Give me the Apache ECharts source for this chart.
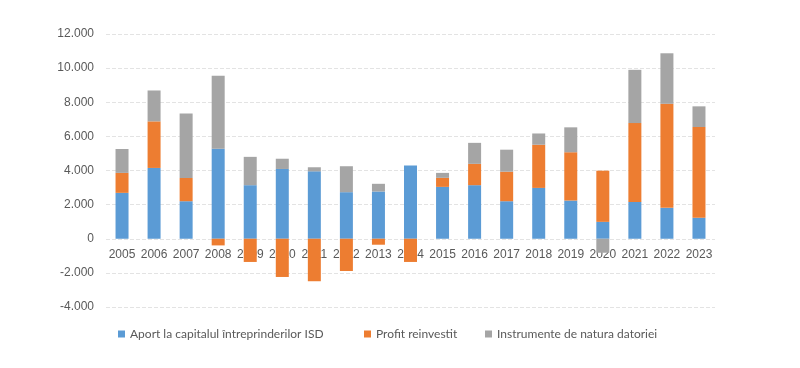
<!DOCTYPE html>
<html><head><meta charset="utf-8">
<script src="https://cdn.jsdelivr.net/npm/echarts@6/dist/echarts.min.js"></script>
<style>html,body{margin:0;padding:0;background:#fff}#c{width:800px;height:368px}</style>
</head><body><div id="c"></div>
<script>
const years = ['2005','2006','2007','2008','2009','2010','2011','2012','2013','2014','2015','2016','2017','2018','2019','2020','2021','2022','2023'];
const aport = [2690, 4150, 2200, 5280, 3140, 4090, 3950, 2730, 2770, 4290, 3040, 3140, 2200, 2980, 2240, 990, 2160, 1810, 1230];
const profit = [1170, 2730, 1360, -390, -1360, -2240, -2490, -1890, -350, -1360, 530, 1250, 1730, 2530, 2830, 3000, 4620, 6100, 5320];
const instrumente = [1400, 1810, 3780, 4270, 1660, 600, 240, 1520, 450, 0, 290, 1230, 1290, 660, 1460, -820, 3120, 2960, 1210];
const seriesNames = ['Aport la capitalul întreprinderilor ISD', 'Profit reinvestit', 'Instrumente de natura datoriei'];
const colors = ['#5B9BD5', '#ED7D31', '#A5A5A5'];

const chart = echarts.init(document.getElementById('c'), null, {renderer: 'canvas'});
const fmt = v => {
  const s = Math.abs(v).toString().replace(/\B(?=(\d{3})+(?!\d))/g, '.');
  return (v < 0 ? '-' : '') + s;
};
const mk = (name, data, i) => ({
  name, type: 'bar', stack: 'total', data, barWidth: 13,
  itemStyle: {color: colors[i]}
});
const legendAt = (name, left) => ({
  top: 328, left, itemWidth: 7, itemHeight: 7, icon: 'rect', padding: 0,
  textStyle: {color: '#595959', fontSize: 12, fontFamily: 'Lato'},
  data: [name]
});
chart.setOption({
  animation: false,
  color: colors,
  grid: {left: 106, right: 85, top: 34, bottom: 61},
  legend: [legendAt(seriesNames[0], 118), legendAt(seriesNames[1], 364), legendAt(seriesNames[2], 485)],
  xAxis: {
    type: 'category', data: years, offset: -68,
    axisLine: {show: false},
    axisTick: {show: false},
    axisLabel: {color: '#595959', fontSize: 12, fontFamily: 'Liberation Sans', margin: 10, interval: 0}
  },
  yAxis: {
    type: 'value', min: -4000, max: 12000, interval: 2000,
    axisLine: {show: false}, axisTick: {show: false},
    splitLine: {lineStyle: {color: '#E3E3E3', type: 'dashed'}},
    axisLabel: {color: '#595959', fontSize: 12, fontFamily: 'Liberation Sans', margin: 12, formatter: fmt}
  },
  series: [mk(seriesNames[0], aport, 0), mk(seriesNames[1], profit, 1), mk(seriesNames[2], instrumente, 2)]
});
</script></body></html>
